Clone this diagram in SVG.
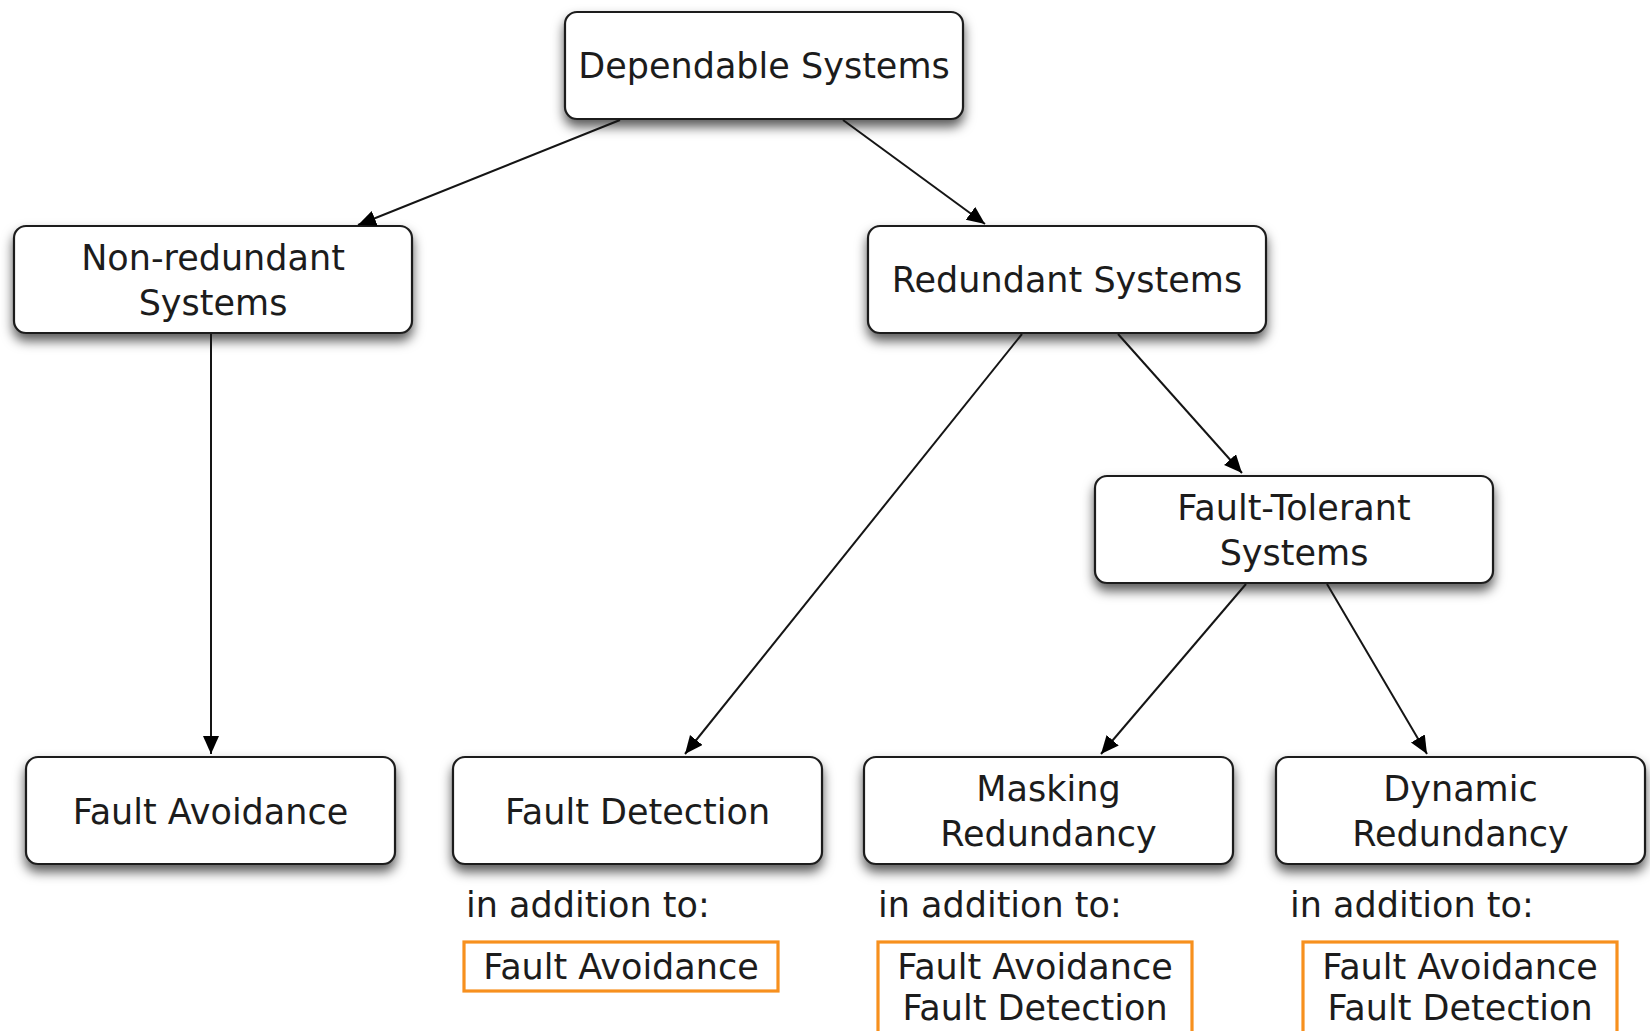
<svg xmlns="http://www.w3.org/2000/svg" width="1650" height="1031" viewBox="0 0 1650 1031">
  <style>
    .box { fill: #ffffff; stroke: #1e1e1e; stroke-width: 2.2; filter: url(#shadow); }
    .label { font-family: "DejaVu Sans", "Liberation Sans", sans-serif; font-size: 35px; fill: #1c1c1c; text-anchor: middle; }
    .note { font-family: "DejaVu Sans", "Liberation Sans", sans-serif; font-size: 35px; fill: #1c1c1c; }
    .req { fill: #ffffff; stroke: #f7901e; stroke-width: 3.2; }
    .edge { stroke: #151515; stroke-width: 2; fill: none; marker-end: url(#arrow); }
  </style>
  <defs>
    <filter id="shadow" x="-10%" y="-20%" width="120%" height="170%">
      <feDropShadow dx="0" dy="7" stdDeviation="6" flood-color="#000000" flood-opacity="0.65"/>
    </filter>
    <marker id="arrow" markerUnits="userSpaceOnUse" markerWidth="20" markerHeight="18" refX="18" refY="8" orient="auto">
      <path d="M0,0 L18,8 L0,16 z" fill="#000000"/>
    </marker>
  </defs>

  <rect width="1650" height="1031" fill="#ffffff"/>

  <!-- concept nodes -->
  <g id="dependable-systems">
    <rect class="box" x="565" y="12" width="398" height="107" rx="12"/>
    <text class="label" x="764" y="78">Dependable Systems</text>
  </g>
  <g id="non-redundant-systems">
    <rect class="box" x="14" y="226" width="398" height="107" rx="12"/>
    <text class="label" x="213" y="270">Non-redundant</text>
    <text class="label" x="213" y="315">Systems</text>
  </g>
  <g id="redundant-systems">
    <rect class="box" x="868" y="226" width="398" height="107" rx="12"/>
    <text class="label" x="1067" y="292">Redundant Systems</text>
  </g>
  <g id="fault-tolerant-systems">
    <rect class="box" x="1095" y="476" width="398" height="107" rx="12"/>
    <text class="label" x="1294" y="520">Fault-Tolerant</text>
    <text class="label" x="1294" y="565">Systems</text>
  </g>
  <g id="fault-avoidance">
    <rect class="box" x="26" y="757" width="369" height="107" rx="12"/>
    <text class="label" x="210.5" y="824">Fault Avoidance</text>
  </g>
  <g id="fault-detection">
    <rect class="box" x="453" y="757" width="369" height="107" rx="12"/>
    <text class="label" x="637.5" y="824">Fault Detection</text>
    <text class="note" x="466" y="917">in addition to:</text>
    <rect class="req" x="464" y="942" width="314" height="49"/>
    <text class="label" x="621" y="979">Fault Avoidance</text>
  </g>
  <g id="masking-redundancy">
    <rect class="box" x="864" y="757" width="369" height="107" rx="12"/>
    <text class="label" x="1048.5" y="801">Masking</text>
    <text class="label" x="1048.5" y="846">Redundancy</text>
    <text class="note" x="878" y="917">in addition to:</text>
    <rect class="req" x="878" y="942" width="314" height="100"/>
    <text class="label" x="1035" y="979">Fault Avoidance</text>
    <text class="label" x="1035" y="1020">Fault Detection</text>
  </g>
  <g id="dynamic-redundancy">
    <rect class="box" x="1276" y="757" width="369" height="107" rx="12"/>
    <text class="label" x="1460.5" y="801">Dynamic</text>
    <text class="label" x="1460.5" y="846">Redundancy</text>
    <text class="note" x="1290" y="917">in addition to:</text>
    <rect class="req" x="1303" y="942" width="314" height="100"/>
    <text class="label" x="1460" y="979">Fault Avoidance</text>
    <text class="label" x="1460" y="1020">Fault Detection</text>
  </g>

  <!-- connectors -->
  <g id="connectors">
    <line class="edge" x1="620" y1="120" x2="358" y2="225"/>
    <line class="edge" x1="843" y1="120" x2="985" y2="224"/>
    <line class="edge" x1="211" y1="334" x2="211" y2="754"/>
    <line class="edge" x1="1022" y1="334" x2="685" y2="754"/>
    <line class="edge" x1="1118" y1="334" x2="1242" y2="473"/>
    <line class="edge" x1="1246" y1="584" x2="1101" y2="754"/>
    <line class="edge" x1="1327" y1="584" x2="1427" y2="754"/>
  </g>
</svg>
